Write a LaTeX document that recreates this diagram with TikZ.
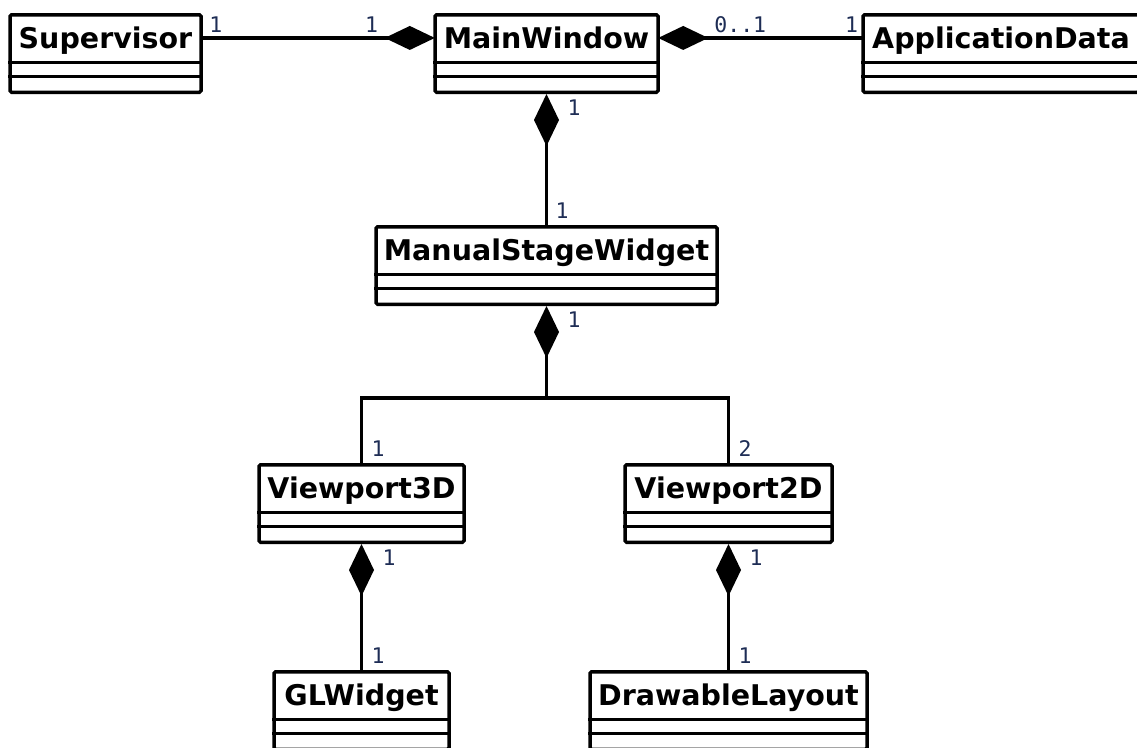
\documentclass[tikz,border=0pt]{standalone}
\usepackage{fontspec}
\setmainfont{DejaVu Sans}
\newfontfamily\multfont{DejaVu Sans Mono}
\usetikzlibrary{arrows.meta}

\definecolor{multcol}{RGB}{30,45,85}

\tikzset{
  classbox/.style={draw, line width=3.5pt, rounded corners=1.5pt, fill=white, inner sep=0pt},
  classname/.style={inner sep=0pt, font=\fontsize{28.5}{32}\selectfont\bfseries,
    text height=20.8pt, text depth=0pt},
  mult/.style={inner sep=0pt, anchor=base west,
    font=\multfont\fontsize{21.5}{24}\selectfont, text=multcol},
  assoc/.style={line width=3.5pt},
  hcomp/.style={assoc, {Diamond[length=50pt,width=24pt]}-},
  vcomp/.style={assoc, {Diamond[length=52pt,width=25pt]}-},
}

% UML class: node name, left x, right x, top y, class name
\newcommand\umlclass[5]{%
  \pgfmathsetmacro\clw{#3-#2}%
  \pgfmathsetmacro\clx{(#2+#3)/2}%
  \node[classbox, minimum width=\clw pt, minimum height=77.5pt, anchor=north] (#1) at (\clx,#4) {};
  \node[classname, minimum width=\clw pt, minimum height=49.5pt, anchor=north] (#1-n) at (#1.north) {#5};
  \draw[line width=3.5pt] ([yshift=-49.5pt]#1.north west) -- ([yshift=-49.5pt]#1.north east);
  \draw[line width=3.5pt] ([yshift=-63.5pt]#1.north west) -- ([yshift=-63.5pt]#1.north east);
}

\begin{document}
\begin{tikzpicture}[x=1pt, y=-1pt]
  \useasboundingbox (0,0) rectangle (1137,747);

  % classes
  \umlclass{sup}{10}{201}{13}{Supervisor}
  \umlclass{mw}{435}{658}{13}{MainWindow}
  \umlclass{ad}{863}{1139}{13}{ApplicationData}
  \umlclass{msw}{376}{717}{225}{ManualStageWidget}
  \umlclass{v3}{259}{464}{463}{Viewport3D}
  \umlclass{v2}{625}{832}{463}{Viewport2D}
  \umlclass{gl}{274}{449}{670}{GLWidget}
  \umlclass{dl}{590}{867}{670}{DrawableLayout}

  % compositions
  \draw[hcomp] (mw-n.west) -- (sup-n.east);
  \draw[hcomp] (mw-n.east) -- (ad-n.west);
  \draw[vcomp] (mw.south) -- (msw.north);
  \coordinate (fork) at ([yshift=-92pt]msw.south);
  \draw[vcomp] (msw.south) -- (fork);
  \draw[assoc] (v3.north) |- (fork) -| (v2.north);
  \draw[vcomp] (v3.south) -- (gl.north);
  \draw[vcomp] (v2.south) -- (dl.north);

  % multiplicities
  \node[mult] at ([xshift=8pt,yshift=5.5pt]sup-n.east) {1};
  \node[mult] at ([xshift=-70pt,yshift=5.5pt]mw-n.west) {1};
  \node[mult] at ([xshift=56pt,yshift=5.5pt]mw-n.east) {0..1};
  \node[mult] at ([xshift=-18pt,yshift=5.5pt]ad-n.west) {1};
  \node[mult] at ([xshift=21pt,yshift=-21pt]mw.south) {1};
  \node[mult] at ([xshift=9pt,yshift=7pt]msw.north) {1};
  \node[mult] at ([xshift=21pt,yshift=-21pt]msw.south) {1};
  \node[mult] at ([xshift=10pt,yshift=7pt]v3.north) {1};
  \node[mult] at ([xshift=10pt,yshift=7pt]v2.north) {2};
  \node[mult] at ([xshift=21pt,yshift=-21pt]v3.south) {1};
  \node[mult] at ([xshift=21pt,yshift=-21pt]v2.south) {1};
  \node[mult] at ([xshift=10pt,yshift=7pt]gl.north) {1};
  \node[mult] at ([xshift=10pt,yshift=7pt]dl.north) {1};
\end{tikzpicture}
\end{document}
